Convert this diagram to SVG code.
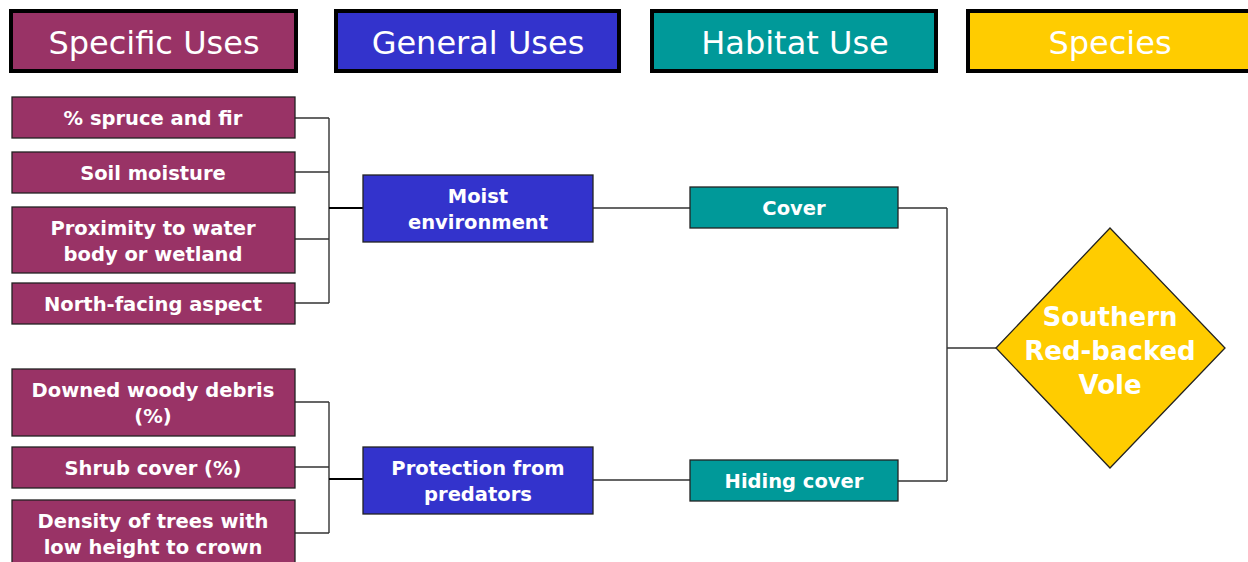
<svg xmlns="http://www.w3.org/2000/svg" width="1248" height="562" viewBox="0 0 1248 562">
<style>
.hdr{stroke:#000;stroke-width:4}
.hdrt{font-family:"DejaVu Sans",Verdana,sans-serif;font-size:32px;fill:#fff;text-anchor:middle}
.box{stroke:#222;stroke-width:1.3}
.t{font-family:"DejaVu Sans",Verdana,sans-serif;font-weight:bold;font-size:19.5px;fill:#fff;text-anchor:middle}
.big{font-size:26px}
.spec{fill:#993366}
.gen{fill:#3333CC}
.hab{fill:#009999}
.sp{fill:#FFCC00}
.ln{fill:none;stroke:#333;stroke-width:1.4}
.lt{fill:none;stroke:#000;stroke-width:2.2}
</style>
<rect width="1248" height="562" fill="#fff"/>
<g id="hdr-specific"><rect class="hdr spec" x="11" y="11" width="285" height="60"/><text class="hdrt" x="154" y="54">Specific Uses</text></g>
<g id="hdr-general"><rect class="hdr gen" x="336" y="11" width="283" height="60"/><text class="hdrt" x="478" y="54">General Uses</text></g>
<g id="hdr-habitat"><rect class="hdr hab" x="652" y="11" width="284" height="60"/><text class="hdrt" x="795" y="54">Habitat Use</text></g>
<g id="hdr-species"><rect class="hdr sp" x="968" y="11" width="290" height="60"/><text class="hdrt" x="1110" y="54">Species</text></g>

<g id="connectors">
<path class="ln" d="M295 118H329M295 172H329M295 239H329M295 303H329M329 118V303"/>
<path class="lt" d="M329 208H363"/>
<path class="ln" d="M295 402H329M295 467H329M295 533H329M329 402V533"/>
<path class="lt" d="M329 479H363"/>
<path class="ln" d="M593 208H690M593 480H690"/>
<path class="ln" d="M898 208H947M898 481H947M947 208V481M947 348H996"/>
</g>

<g id="n-spruce"><rect class="box spec" x="12" y="97" width="283" height="41"/><text class="t" x="153" y="125">% spruce and fir</text></g>
<g id="n-soil"><rect class="box spec" x="12" y="152" width="283" height="41"/><text class="t" x="153" y="180">Soil moisture</text></g>
<g id="n-water"><rect class="box spec" x="12" y="207" width="283" height="66"/><text class="t" x="153" y="235">Proximity to water</text><text class="t" x="153" y="261">body or wetland</text></g>
<g id="n-north"><rect class="box spec" x="12" y="283" width="283" height="41"/><text class="t" x="153" y="311">North-facing aspect</text></g>
<g id="n-debris"><rect class="box spec" x="12" y="369" width="283" height="67"/><text class="t" x="153" y="397">Downed woody debris</text><text class="t" x="153" y="423">(%)</text></g>
<g id="n-shrub"><rect class="box spec" x="12" y="447" width="283" height="41"/><text class="t" x="153" y="475">Shrub cover (%)</text></g>
<g id="n-density"><rect class="box spec" x="12" y="500" width="283" height="80"/><text class="t" x="153" y="528">Density of trees with</text><text class="t" x="153" y="554">low height to crown</text></g>

<g id="n-moist"><rect class="box gen" x="363" y="175" width="230" height="67"/><text class="t" x="478" y="203">Moist</text><text class="t" x="478" y="229">environment</text></g>
<g id="n-protect"><rect class="box gen" x="363" y="447" width="230" height="67"/><text class="t" x="478" y="475">Protection from</text><text class="t" x="478" y="501">predators</text></g>

<g id="n-cover"><rect class="box hab" x="690" y="187" width="208" height="41"/><text class="t" x="794" y="215">Cover</text></g>
<g id="n-hiding"><rect class="box hab" x="690" y="460" width="208" height="41"/><text class="t" x="794" y="488">Hiding cover</text></g>

<g id="n-vole"><polygon class="box sp" points="996,348 1110,228 1225,348 1110,468"/>
<text class="t big" x="1110" y="326">Southern</text>
<text class="t big" x="1110" y="360">Red-backed</text>
<text class="t big" x="1110" y="394">Vole</text></g>
</svg>
